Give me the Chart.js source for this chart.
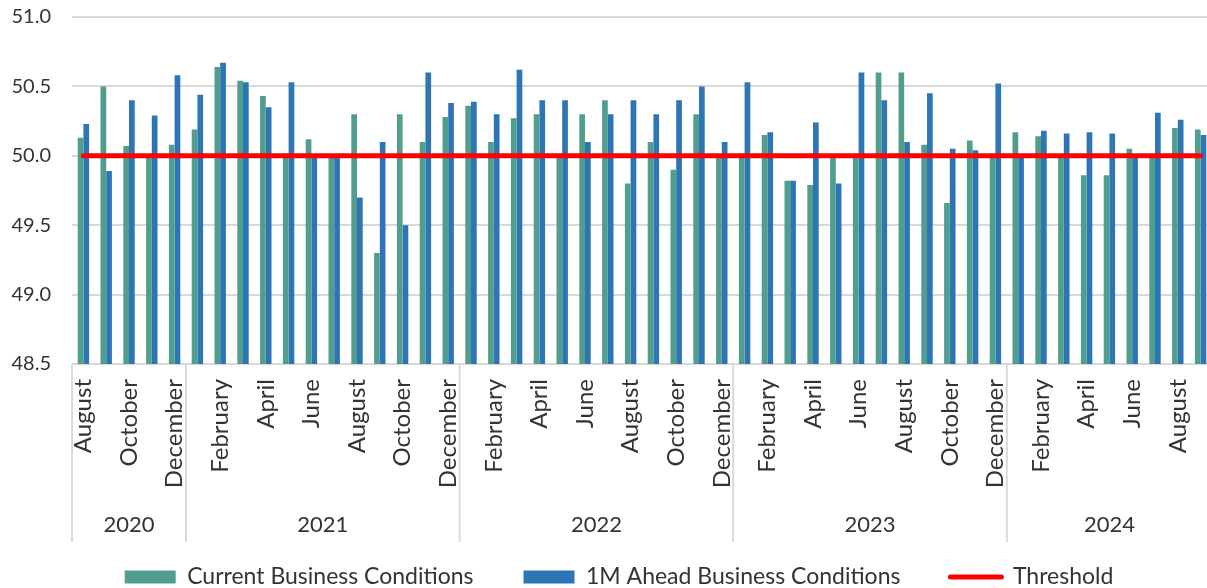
<!DOCTYPE html>
<html><head><meta charset="utf-8">
<script src="https://cdn.jsdelivr.net/npm/chart.js@4/dist/chart.umd.min.js"></script>
<style>
html,body{margin:0;padding:0;background:#fff;overflow:hidden;}
#wrap{width:1212px;height:588px;position:relative;}
</style></head><body>
<div id="wrap"><canvas id="c"></canvas></div>
<script>
const months = ["August","September","October","November","December",
"January","February","March","April","May","June","July","August","September","October","November","December",
"January","February","March","April","May","June","July","August","September","October","November","December",
"January","February","March","April","May","June","July","August","September","October","November","December",
"January","February","March","April","May","June","July","August","September"];
const years = [2020,2020,2020,2020,2020,
2021,2021,2021,2021,2021,2021,2021,2021,2021,2021,2021,2021,
2022,2022,2022,2022,2022,2022,2022,2022,2022,2022,2022,2022,
2023,2023,2023,2023,2023,2023,2023,2023,2023,2023,2023,2023,
2024,2024,2024,2024,2024,2024,2024,2024,2024];
const currentConditions = [50.13,50.50,50.07,50.00,50.08,
50.19,50.64,50.54,50.43,50.00,50.12,50.00,50.30,49.30,50.30,50.10,50.28,
50.36,50.10,50.27,50.30,50.00,50.30,50.40,49.80,50.10,49.90,50.30,50.00,
50.00,50.15,49.82,49.79,50.00,50.00,50.60,50.60,50.08,49.66,50.11,50.00,
50.17,50.14,50.00,49.86,49.86,50.05,50.00,50.20,50.19];
const aheadConditions = [50.23,49.89,50.40,50.29,50.58,
50.44,50.67,50.53,50.35,50.53,50.00,50.00,49.70,50.10,49.50,50.60,50.38,
50.39,50.30,50.62,50.40,50.40,50.10,50.30,50.40,50.30,50.40,50.50,50.10,
50.53,50.17,49.82,50.24,49.80,50.60,50.40,50.10,50.45,50.05,50.04,50.52,
50.00,50.18,50.16,50.17,50.16,50.00,50.31,50.26,50.15];
const threshold = [50,50,50,50,50,
50,50,50,50,50,50,50,50,50,50,50,50,
50,50,50,50,50,50,50,50,50,50,50,50,
50,50,50,50,50,50,50,50,50,50,50,50,
50,50,50,50,50,50,50,50,50];
const yTicks = [48.5,49.0,49.5,50.0,50.5,51.0];

const FONT = 'Lato';
const TXT = '#333333';
const GRID = '#D9D9D9';

const yearAxisPlugin = {
  id: 'yearAxis',
  afterLayout(chart) {
    if (chart.legend) { chart.legend.left += 13; chart.legend.right += 13; }
  },
  afterDraw(chart) {
    const xs = chart.scales.x;
    const ctx = chart.ctx;
    const top = chart.chartArea.bottom;
    const half = (xs.getPixelForValue(1) - xs.getPixelForValue(0)) / 2;
    ctx.save();
    ctx.strokeStyle = GRID;
    ctx.lineWidth = 2;
    ctx.fillStyle = TXT;
    ctx.font = '22px ' + FONT;
    ctx.textAlign = 'center';
    ctx.textBaseline = 'middle';
    let start = 0;
    for (let i = 1; i <= years.length; i++) {
      if (i === years.length || years[i] !== years[start]) {
        const x0 = xs.getPixelForValue(start) - half;
        const x1 = xs.getPixelForValue(i - 1) + half;
        ctx.beginPath(); ctx.moveTo(x0, top); ctx.lineTo(x0, top + 178); ctx.stroke();
        if (i === years.length) { ctx.beginPath(); ctx.moveTo(x1, top); ctx.lineTo(x1, top + 178); ctx.stroke(); }
        ctx.fillText(String(years[start]), (x0 + x1) / 2, top + 161);
        start = i;
      }
    }
    ctx.restore();
  }
};

new Chart(document.getElementById('c'), {
  data: {
    labels: months,
    datasets: [
      { type: 'bar', label: 'Current Business Conditions', data: currentConditions, backgroundColor: '#529E8E', order: 1,
        categoryPercentage: 0.5, barPercentage: 1.0 },
      { type: 'bar', label: '1M Ahead Business Conditions', data: aheadConditions, backgroundColor: '#2E75B6', order: 1,
        categoryPercentage: 0.5, barPercentage: 1.0 },
      { type: 'line', label: 'Threshold', data: threshold, borderColor: '#FF0000', backgroundColor: '#FF0000',
        borderWidth: 5, pointRadius: 0, borderCapStyle: 'round', order: 0, tension: 0 }
    ]
  },
  options: {
    responsive: true, maintainAspectRatio: false, animation: false, devicePixelRatio: 1,
    layout: { padding: { top: 17, left: 0, right: 0, bottom: -10.5 } },
    plugins: {
      tooltip: { enabled: false },
      legend: {
        position: 'bottom',
        labels: {
          usePointStyle: true, pointStyleWidth: 51, boxHeight: 13, padding: 50,
          font: { family: FONT, size: 23 }, color: TXT,
          sort: (a, b) => a.datasetIndex - b.datasetIndex,
          generateLabels(chart) {
            const items = Chart.defaults.plugins.legend.labels.generateLabels(chart);
            items.forEach(it => {
              const ds = chart.data.datasets[it.datasetIndex];
              if (ds.type === 'line') { it.pointStyle = 'line'; it.lineWidth = 5; it.strokeStyle = '#FF0000'; it.lineCap = 'round'; }
              else { it.pointStyle = 'rect'; it.lineWidth = 0; }
            });
            return items;
          }
        }
      }
    },
    scales: {
      x: {
        grid: { display: false, drawTicks: false },
        border: { display: false },
        ticks: {
          autoSkip: false, minRotation: 90, maxRotation: 90, padding: 15,
          font: { family: FONT, size: 24 }, color: TXT,
          callback: (v, i) => (i % 2 === 0 ? months[i] : '')
        },
        afterFit: s => { s.height = 151.5; s.paddingLeft = 0; s.paddingRight = 0; }
      },
      y: {
        min: 48.5, max: 51.0,
        afterBuildTicks: s => { s.ticks = yTicks.map(v => ({ value: v })); },
        grid: { color: GRID, lineWidth: 2, drawTicks: false },
        border: { display: false },
        ticks: { padding: 21, font: { family: FONT, size: 20 }, color: TXT, callback: v => Number(v).toFixed(1) },
        afterFit: s => { s.width = 72; s.paddingTop = 0; s.paddingBottom = 0; }
      }
    }
  },
  plugins: [yearAxisPlugin]
});
</script>
</body></html>
